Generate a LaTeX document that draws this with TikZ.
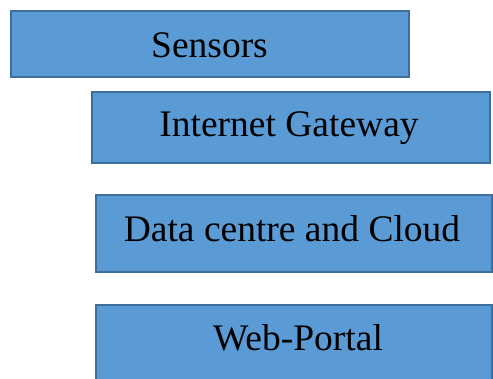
\documentclass[tikz,border=0pt]{standalone}
\usepackage{fontspec}
\setmainfont{Liberation Serif}
\definecolor{boxfill}{HTML}{5B9BD5}
\definecolor{boxline}{HTML}{3D6E9C}
\begin{document}
\begin{tikzpicture}[x=1pt,y=-1pt,
  layerbox/.style={draw=boxline, fill=boxfill, line width=2pt},
  layertext/.style={anchor=base, inner sep=0pt, font=\fontsize{37.5}{40}\selectfont, text=black}]
  \useasboundingbox (0,0) rectangle (493,379);
  \begin{scope}
    \clip (0,0) rectangle (493,379);
    % layer boxes
    \path[layerbox] (11,11) rectangle (409,77) coordinate (sensorsbox);
    \path[layerbox] (92,92) rectangle (490,163) coordinate (gatewaybox);
    \path[layerbox] (96,195) rectangle (492,272) coordinate (cloudbox);
    \path[layerbox] (96,305) rectangle (492,384) coordinate (portalbox);
    % layer labels
    \node[layertext] (sensors) at (209.5,58) {Sensors};
    \node[layertext] (gateway) at (289,137) {Internet Gateway};
    \node[layertext] (cloud) at (292,242) {Data centre and Cloud};
    \node[layertext] (portal) at (298,351) {Web-Portal};
  \end{scope}
\end{tikzpicture}
\end{document}
